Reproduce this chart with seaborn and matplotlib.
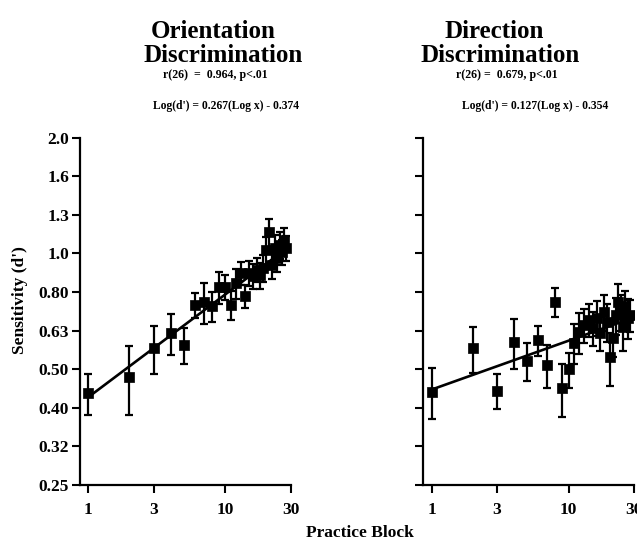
import numpy as np
import pandas as pd
import matplotlib
matplotlib.use("Agg")
import matplotlib.pyplot as plt
import seaborn as sns
from matplotlib.ticker import FixedLocator, FixedFormatter, NullLocator

# ---------------- data ----------------
blocks = list(range(1, 29))

orient_dprime = [0.433, 0.477, 0.567, 0.621, 0.578, 0.734, 0.747, 0.730, 0.817, 0.817,
                 0.734, 0.837, 0.889, 0.774, 0.889, 0.873, 0.905, 0.878, 0.916, 1.020,
                 1.136, 0.932, 1.032, 0.972, 1.051, 1.008, 1.083, 1.032]
orient_err = [0.052, 0.097, 0.080, 0.076, 0.062, 0.055, 0.092, 0.065, 0.079, 0.061,
              0.062, 0.075, 0.061, 0.051, 0.067, 0.063, 0.065, 0.068, 0.072, 0.085,
              0.095, 0.072, 0.083, 0.078, 0.082, 0.075, 0.078, 0.074]

direct_dprime = [0.436, 0.567, 0.439, 0.588, 0.525, 0.595, 0.512, 0.747, 0.446, 0.500,
                 0.585, 0.624, 0.651, 0.671, 0.639, 0.679, 0.621, 0.704, 0.663, 0.537,
                 0.603, 0.691, 0.747, 0.704, 0.643, 0.730, 0.679, 0.691]
direct_err = [0.066, 0.077, 0.046, 0.087, 0.060, 0.053, 0.066, 0.065, 0.070, 0.052,
              0.070, 0.076, 0.066, 0.066, 0.063, 0.071, 0.063, 0.074, 0.076, 0.084,
              0.064, 0.076, 0.086, 0.074, 0.087, 0.070, 0.080, 0.066]

orient_fit = (0.267, -0.374)   # slope, intercept of log(d') vs log(x)
direct_fit = (0.127, -0.354)

y_ticks = [0.25, 0.315, 0.397, 0.5, 0.63, 0.794, 1.0, 1.26, 1.587, 2.0]
y_tick_labels = ["0.25", "0.32", "0.40", "0.50", "0.63", "0.80", "1.0", "1.3", "1.6", "2.0"]
x_ticks = [1, 3, 10, 30]
x_tick_labels = ["1", "3", "10", "30"]

titles = [("Orientation", "Discrimination", "r(26)  =  0.964, p<.01",
           "Log(d') = 0.267(Log x) - 0.374"),
          ("Direction", "Discrimination", "r(26) =  0.679, p<.01",
           "Log(d') = 0.127(Log x) - 0.354")]

# ---------------- figure ----------------
sns.set_theme(style="ticks")
plt.rcParams["font.family"] = ["Liberation Serif", "DejaVu Serif"]
plt.rcParams["font.weight"] = "bold"

W, H = 637, 541
fig = plt.figure(figsize=(W / 100, H / 100), dpi=100)
fig.patch.set_facecolor("white")

def fx(px):
    return px / W

def fy(py):
    return 1 - py / H

ax_w = 211
top_px, bot_px = 137.5, 485
axes_left_px = [79.5, 423]

panels = [(orient_dprime, orient_err, orient_fit), (direct_dprime, direct_err, direct_fit)]
axes = []
for i, (vals, errs, fit) in enumerate(panels):
    ax = fig.add_axes([fx(axes_left_px[i]), fy(bot_px), ax_w / W, (bot_px - top_px) / H])
    ax.set_facecolor("white")
    df = pd.DataFrame({"block": blocks, "dprime": vals, "err": errs})
    ax.errorbar(df["block"], df["dprime"], yerr=df["err"], fmt="none",
                ecolor="black", elinewidth=1.6, capsize=3, capthick=1.6, zorder=2)
    sns.scatterplot(data=df, x="block", y="dprime", marker="s", s=46, color="black",
                    edgecolor="black", linewidth=0.5, ax=ax, zorder=3, legend=False)
    slope, icpt = fit
    xfit = np.array([1.0, 28.0])
    fit_df = pd.DataFrame({"block": xfit, "dprime": 10 ** icpt * xfit ** slope})
    sns.lineplot(data=fit_df, x="block", y="dprime", color="black", linewidth=1.9,
                 ax=ax, zorder=4, legend=False)

    ax.set_xscale("log")
    ax.set_yscale("log")
    ax.set_xlim(0.864, 30)
    ax.set_ylim(0.25, 2.0)
    ax.xaxis.set_major_locator(FixedLocator(x_ticks))
    ax.xaxis.set_major_formatter(FixedFormatter(x_tick_labels))
    ax.xaxis.set_minor_locator(NullLocator())
    ax.yaxis.set_major_locator(FixedLocator(y_ticks))
    ax.yaxis.set_minor_locator(NullLocator())
    if i == 0:
        ax.yaxis.set_major_formatter(FixedFormatter(y_tick_labels))
    else:
        ax.yaxis.set_major_formatter(FixedFormatter([""] * len(y_ticks)))
    ax.tick_params(axis="both", direction="out", length=5.5, width=1.5,
                   color="black", labelsize=12.5, labelcolor="black")
    ax.tick_params(axis="x", pad=7)
    ax.tick_params(axis="y", pad=2)
    for lab in ax.get_xticklabels() + ax.get_yticklabels():
        lab.set_fontweight("bold")
    for s in ["top", "right"]:
        ax.spines[s].set_visible(False)
    for s in ["left", "bottom"]:
        ax.spines[s].set_linewidth(1.6)
        ax.spines[s].set_color("black")
    ax.set_xlabel("")
    ax.set_ylabel("")
    axes.append(ax)

# titles and annotations
title_pos = [((213, 32), (223, 55), (215, 75), (226, 106.5)),
             ((494, 32), (500, 55), (507, 75), (535, 106.5))]
for (t1, t2, t3, t4), (p1, p2, p3, p4) in zip(titles, title_pos):
    fig.text(fx(p1[0]), fy(p1[1]), t1, ha="center", va="center", fontsize=18,
             fontweight="bold", color="black")
    fig.text(fx(p2[0]), fy(p2[1]), t2, ha="center", va="center", fontsize=18,
             fontweight="bold", color="black")
    fig.text(fx(p3[0]), fy(p3[1]), t3, ha="center", va="center", fontsize=8.6,
             fontweight="bold", color="black")
    fig.text(fx(p4[0]), fy(p4[1]), t4, ha="center", va="center", fontsize=8.4,
             fontweight="bold", color="black")

fig.text(fx(20), fy(300), "Sensitivity (d')", rotation=90, ha="center", va="center",
         fontsize=12.5, fontweight="bold", color="black")
fig.text(fx(360), fy(533), "Practice Block", ha="center", va="center",
         fontsize=12.5, fontweight="bold", color="black")

fig.savefig("out.png", dpi=100, facecolor="white")
